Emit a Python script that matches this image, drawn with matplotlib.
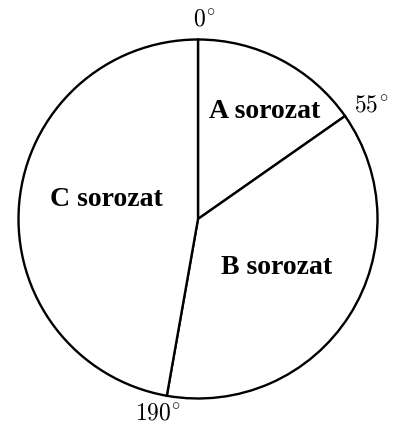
import matplotlib
matplotlib.use("Agg")
import matplotlib.pyplot as plt

# sorozatok es szogek
sorozatok = ['A sorozat', 'B sorozat', 'C sorozat']
szogek = [55, 135, 170]
hatarok = ['0', '55', '190']

plt.rcParams['mathtext.fontset'] = 'cm'

fig = plt.figure(figsize=(3.93, 4.26), dpi=100)
ax = fig.add_axes([0, 0, 1, 1])

kozep = (198, 426 - 219)
sugar = 179.5

ax.pie(szogek, center=kozep, radius=sugar, startangle=90, counterclock=False,
       colors=['white'] * 3,
       wedgeprops={'edgecolor': 'black', 'linewidth': 1.7})

# feliratok a szeletekben
cimke_helyek = [(265, 426 - 111), (277, 426 - 267), (106, 426 - 200)]
for nev, (x, y) in zip(sorozatok, cimke_helyek):
    ax.text(x, y, nev, ha='center', va='center', fontsize=20,
            fontweight='bold', family='Liberation Serif')

# szog feliratok a kor szelen
szog_helyek = [(204, 426 - 19), (371, 426 - 104), (158, 426 - 412)]
for s, (x, y) in zip(hatarok, szog_helyek):
    ax.text(x, y, r'$\mathbf{%s}^{\!\circ}$' % s, ha='center', va='center', fontsize=17)

ax.set_xlim(0, 393)
ax.set_ylim(0, 426)
ax.set_aspect('equal')
ax.axis('off')

fig.savefig('out.png', dpi=100, facecolor='white')
